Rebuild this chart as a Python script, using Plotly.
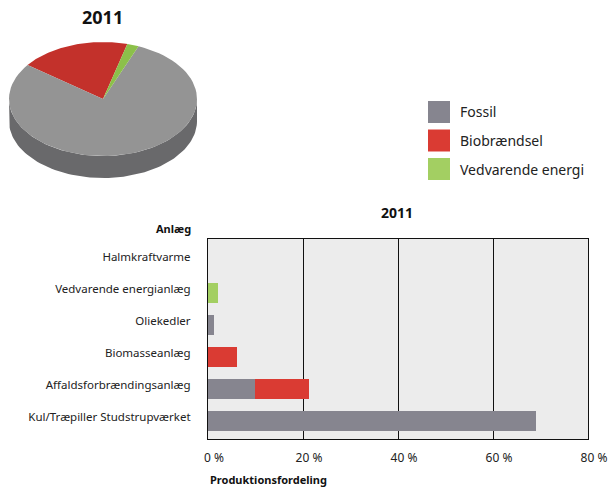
import numpy as np
import plotly.graph_objects as go

# --- data ---
categories = [
    "Halmkraftvarme",
    "Vedvarende energianlæg",
    "Oliekedler",
    "Biomasseanlæg",
    "Affaldsforbrændingsanlæg",
    "Kul/Træpiller Studstrupværket",
]
fossil = [0, 0, 1.2, 0, 9.8, 69.1]
biobraendsel = [0, 0, 0, 6.0, 11.4, 0]
vedvarende = [0, 2.0, 0, 0, 0, 0]
series_names = ["Fossil", "Biobrændsel", "Vedvarende energi"]
pie_shares = [79, 19, 2]  # fossil, biobrændsel, vedvarende
x_ticks = [0, 20, 40, 60, 80]
x_ticklabels = ["0 %", "20 %", "40 %", "60 %", "80 %"]
year = "2011"

bar_colors = ["#86858f", "#da3b33", "#a3cf62"]
pie_colors = ["#949494", "#c3312b", "#8cc04a"]
FONT = "Noto Sans"
W, H = 609, 489


def px(x):
    return x / W


def py(y):
    return 1 - y / H


fig = go.Figure()

# --- stacked horizontal bars ---
for name, vals, col in zip(series_names, [fossil, biobraendsel, vedvarende], bar_colors):
    fig.add_trace(go.Bar(
        y=categories, x=vals, name=name, orientation="h",
        marker=dict(color=col, line=dict(width=0)),
        showlegend=False, xaxis="x", yaxis="y",
    ))

# --- tilted pie drawn on a hidden pixel-scaled axis ---
cx, cy, rx, ry, depth = 103, 99, 94, 57, 22


def arc(t0, t1, n=80):
    t = np.radians(np.linspace(t0, t1, n))
    return cx + rx * np.sin(t), cy - ry * np.cos(t)


# side band (front half)
ax, ay = arc(90, 270)
fig.add_trace(go.Scatter(
    x=np.concatenate([ax, ax[::-1]]), y=np.concatenate([ay, ay[::-1] + depth]),
    fill="toself", fillcolor="#69696b", line=dict(width=0), mode="lines",
    showlegend=False, hoverinfo="skip", xaxis="x2", yaxis="y2",
))

# slices: counterclockwise from the start angle, order biobrændsel, fossil, vedvarende
start = 15
order = [1, 0, 2]
a = start
for i in order:
    span = 360 * pie_shares[i] / sum(pie_shares)
    sx, sy = arc(a, a - span)
    fig.add_trace(go.Scatter(
        x=np.concatenate([[cx], sx, [cx]]), y=np.concatenate([[cy], sy, [cy]]),
        fill="toself", fillcolor=pie_colors[i], line=dict(width=0), mode="lines",
        showlegend=False, hoverinfo="skip", xaxis="x2", yaxis="y2",
    ))
    a -= span

# --- plot-area background for the bar chart only ---
shapes = [dict(type="rect", xref="x domain", yref="y domain", x0=0, x1=1, y0=0, y1=1,
               fillcolor="#ececec", line=dict(width=0), layer="below")]

# --- legend built from series names ---
annotations = []
for k, (name, col) in enumerate(zip(series_names, bar_colors)):
    yc = 112 + k * 28.5
    shapes.append(dict(type="rect", xref="paper", yref="paper",
                       x0=px(428), x1=px(450), y0=py(yc - 11), y1=py(yc + 11),
                       fillcolor=col, line=dict(width=0)))
    annotations.append(dict(text=name, xref="paper", yref="paper", x=px(458), y=py(yc),
                            xanchor="left", yanchor="middle", showarrow=False,
                            font=dict(size=14, color="#222")))

annotations += [
    dict(text="<b>%s</b>" % year, xref="paper", yref="paper", x=px(103), y=py(17),
         xanchor="center", yanchor="middle", showarrow=False, font=dict(size=18, color="#111")),
    dict(text="<b>%s</b>" % year, xref="paper", yref="paper", x=px(397), y=py(212),
         xanchor="center", yanchor="middle", showarrow=False, font=dict(size=14, color="#111")),
    dict(text="<b>Anlæg</b>", xref="paper", yref="paper", x=px(193), y=py(228),
         xanchor="right", yanchor="middle", showarrow=False, font=dict(size=11, color="#111")),
    dict(text="<b>Produktionsfordeling</b>", xref="paper", yref="paper", x=px(208), y=py(479),
         xanchor="left", yanchor="middle", showarrow=False, font=dict(size=11, color="#111")),
]

fig.update_layout(
    width=W, height=H, margin=dict(l=0, r=0, t=0, b=0),
    paper_bgcolor="white", plot_bgcolor="rgba(0,0,0,0)",
    font=dict(family=FONT, color="#222"),
    barmode="stack", bargap=0.375,
    xaxis=dict(domain=[px(208), px(588)], range=[0, 80], tickvals=x_ticks, ticktext=x_ticklabels,
               showgrid=True, gridcolor="#111", gridwidth=1, zeroline=False,
               showline=True, linecolor="#111", linewidth=1.2, mirror=True,
               ticks="", tickfont=dict(size=12, color="#222"), automargin=False,
               ticklabelstandoff=7, ticklabelshift=6, fixedrange=True),
    yaxis=dict(domain=[py(439), py(239)], range=[5.57, -0.67], showgrid=False,
               showline=True, linecolor="#111", linewidth=1.2, mirror=True, automargin=False,
               ticks="", tickfont=dict(size=11.5, color="#222"), ticklabelstandoff=14,
               ticklabelshift=4),
    xaxis2=dict(domain=[0, px(209)], range=[0, 209], visible=False, anchor="y2"),
    yaxis2=dict(domain=[py(190), 1], range=[190, 0], visible=False, anchor="x2"),
    shapes=shapes, annotations=annotations,
)

fig.write_html("out.html", config={"displayModeBar": False},
               post_script="document.body.style.margin='0';")
